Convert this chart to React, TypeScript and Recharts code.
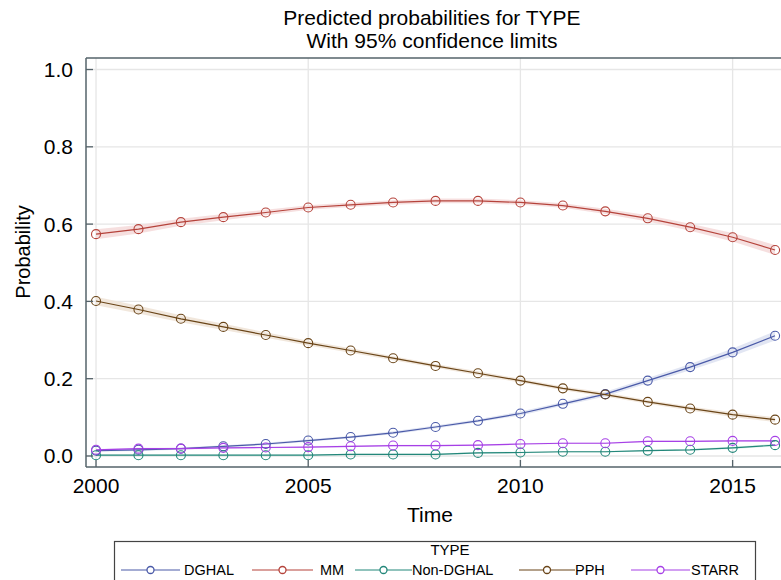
import {
    Area,
    CartesianGrid,
    ComposedChart,
    Line,
    ReferenceLine,
    XAxis,
    YAxis,
} from "recharts";

const years = [2000, 2001, 2002, 2003, 2004, 2005, 2006, 2007, 2008, 2009, 2010, 2011, 2012, 2013, 2014, 2015, 2016];

const dghal = [0.014, 0.016, 0.019, 0.025, 0.031, 0.04, 0.049, 0.06, 0.075, 0.091, 0.11, 0.135, 0.16, 0.195, 0.23, 0.268, 0.311];
const mm = [0.574, 0.587, 0.605, 0.618, 0.63, 0.643, 0.65, 0.656, 0.66, 0.66, 0.656, 0.648, 0.633, 0.615, 0.592, 0.566, 0.533];
const nonDghal = [0.002, 0.002, 0.002, 0.002, 0.002, 0.002, 0.004, 0.004, 0.004, 0.008, 0.009, 0.011, 0.011, 0.014, 0.016, 0.021, 0.028];
const pph = [0.401, 0.379, 0.355, 0.334, 0.313, 0.292, 0.273, 0.253, 0.233, 0.214, 0.195, 0.175, 0.159, 0.14, 0.123, 0.107, 0.094];
const starr = [0.016, 0.019, 0.019, 0.021, 0.022, 0.023, 0.025, 0.027, 0.027, 0.028, 0.031, 0.033, 0.033, 0.038, 0.038, 0.039, 0.039];

// half widths of the 95% limits
const dghalCi = [0.003, 0.003, 0.003, 0.003, 0.003, 0.003, 0.003, 0.004, 0.004, 0.004, 0.005, 0.005, 0.006, 0.007, 0.008, 0.01, 0.012];
const mmCi = [0.013, 0.011, 0.009, 0.008, 0.007, 0.006, 0.006, 0.006, 0.006, 0.006, 0.006, 0.006, 0.007, 0.008, 0.009, 0.011, 0.013];
const nonDghalCi = [0.002, 0.002, 0.002, 0.002, 0.002, 0.002, 0.002, 0.002, 0.002, 0.002, 0.002, 0.002, 0.002, 0.002, 0.002, 0.003, 0.003];
const pphCi = [0.011, 0.01, 0.009, 0.008, 0.007, 0.006, 0.006, 0.005, 0.005, 0.005, 0.005, 0.005, 0.005, 0.005, 0.005, 0.006, 0.006];
const starrCi = [0.002, 0.002, 0.002, 0.002, 0.002, 0.002, 0.002, 0.002, 0.002, 0.002, 0.002, 0.002, 0.002, 0.002, 0.002, 0.002, 0.002];

const xTicks = [2000, 2005, 2010, 2015];
const yTicks = [0, 0.2, 0.4, 0.6, 0.8, 1.0];

const series = [
    { key: "dghal", name: "DGHAL", color: "#4a5aa8", band: "#dfe3f2", values: dghal, ci: dghalCi },
    { key: "mm", name: "MM", color: "#b5433b", band: "#f5dcdb", values: mm, ci: mmCi },
    { key: "nonDghal", name: "Non-DGHAL", color: "#23877a", band: "#d8ece8", values: nonDghal, ci: nonDghalCi },
    { key: "pph", name: "PPH", color: "#6a4518", band: "#efe4d8", values: pph, ci: pphCi },
    { key: "starr", name: "STARR", color: "#a640e6", band: "#efdcfa", values: starr, ci: starrCi },
];

// legend layout (line start, line end, text x), relative to legend box
const legendSlots = [
    [7, 66, 70],
    [138, 199, 206],
    [241, 298, 298],
    [405, 461, 461],
    [517, 576, 577],
];

const data = years.map((year, i) => {
    const row: any = { year };
    series.forEach((s) => {
        row[s.key] = s.values[i];
        row[s.key + "Band"] = [s.values[i] - s.ci[i], s.values[i] + s.ci[i]];
    });
    return row;
});

const FONT = "'Liberation Sans', Arial, sans-serif";
const FRAME = "#55636a";

function Ring(props: any) {
    const { cx, cy, stroke } = props;
    if (cx == null || cy == null) return null;
    return <circle cx={cx} cy={cy} r={4.5} fill="none" stroke={stroke} strokeWidth={1.1} />;
}

function XTick(props: any) {
    const { x, y, payload } = props;
    const axisY = y - 10;
    return (
        <g>
            <line x1={x} x2={x} y1={axisY} y2={axisY - 7} stroke={FRAME} strokeWidth={1.3} />
            <text x={x} y={y + 16} textAnchor="middle" fontSize={21} fontFamily={FONT} fill="#000">
                {payload.value}
            </text>
        </g>
    );
}

function YTick(props: any) {
    const { x, y, payload } = props;
    const axisX = x + 13;
    return (
        <g>
            <line x1={axisX} x2={axisX + 7} y1={y} y2={y} stroke={FRAME} strokeWidth={1.3} />
            <text x={x} y={y + 7.5} textAnchor="end" fontSize={21} fontFamily={FONT} fill="#000">
                {Number(payload.value).toFixed(1)}
            </text>
        </g>
    );
}

export default function App() {
    return (
        <div style={{ position: "absolute", left: 0, top: 0, width: 781, height: 580, background: "#fff", fontFamily: FONT, overflow: "hidden" }}>
            <ComposedChart
                width={781}
                height={580}
                data={data}
                margin={{ top: 58, right: 0, bottom: 73, left: 0 }}
                style={{ position: "absolute", left: 0, top: 0 }}
            >
                <CartesianGrid stroke="#e6e6e6" strokeWidth={1.3} horizontalValues={yTicks} verticalValues={xTicks} />
                <XAxis
                    dataKey="year"
                    type="number"
                    domain={[1999.764, 2016.14]}
                    ticks={xTicks}
                    allowDataOverflow
                    stroke={FRAME}
                    strokeWidth={1.5}
                    tickLine={false}
                    tickSize={0}
                    tickMargin={10}
                    tick={<XTick />}
                    height={40}
                />
                <YAxis
                    type="number"
                    domain={[-0.0285, 1.0298]}
                    ticks={yTicks}
                    allowDataOverflow
                    width={86}
                    stroke={FRAME}
                    strokeWidth={1.5}
                    tickLine={false}
                    tickSize={0}
                    tickMargin={13}
                    tick={<YTick />}
                />
                <ReferenceLine y={1.0298} stroke={FRAME} strokeWidth={1.5} />
                {series.map((s) => (
                    <Area
                        key={s.key + "Band"}
                        dataKey={s.key + "Band"}
                        type="linear"
                        stroke="none"
                        fill={s.band}
                        fillOpacity={0.9}
                        isAnimationActive={false}
                        activeDot={false}
                    />
                ))}
                {series.map((s) => (
                    <Line
                        key={s.key}
                        dataKey={s.key}
                        type="linear"
                        stroke={s.color}
                        strokeWidth={1.2}
                        dot={<Ring stroke={s.color} />}
                        activeDot={false}
                        isAnimationActive={false}
                    />
                ))}
            </ComposedChart>
            <svg width={781} height={580} style={{ position: "absolute", left: 0, top: 0, pointerEvents: "none" }}>
                <text x={432} y={25} textAnchor="middle" fontSize={21} fontFamily={FONT} fill="#000">
                    Predicted probabilities for TYPE
                </text>
                <text x={432} y={48} textAnchor="middle" fontSize={21} fontFamily={FONT} fill="#000">
                    With 95% confidence limits
                </text>
                <text x={430} y={522} textAnchor="middle" fontSize={21} fontFamily={FONT} fill="#000">
                    Time
                </text>
                <text
                    x={30}
                    y={252}
                    textAnchor="middle"
                    fontSize={20}
                    fontFamily={FONT}
                    fill="#000"
                    transform="rotate(-90 30 252)"
                >
                    Probability
                </text>
                <g transform="translate(114 541)">
                    <rect x={0.5} y={0.5} width={641} height={60} fill="none" stroke="#444" strokeWidth={1.2} />
                    <text x={336} y={14} textAnchor="middle" fontSize={15} fontFamily={FONT} fill="#000">
                        TYPE
                    </text>
                    {series.map((s, i) => {
                        const [a, b, t] = legendSlots[i];
                        return (
                            <g key={s.key}>
                                <line x1={a} x2={b} y1={29} y2={29} stroke={s.color} strokeWidth={1.2} />
                                <circle cx={(a + b) / 2} cy={29} r={3.5} fill="#fff" stroke={s.color} strokeWidth={1.3} />
                                <text x={t} y={34} fontSize={14.5} fontFamily={FONT} fill="#000">
                                    {s.name}
                                </text>
                            </g>
                        );
                    })}
                </g>
            </svg>
        </div>
    );
}
